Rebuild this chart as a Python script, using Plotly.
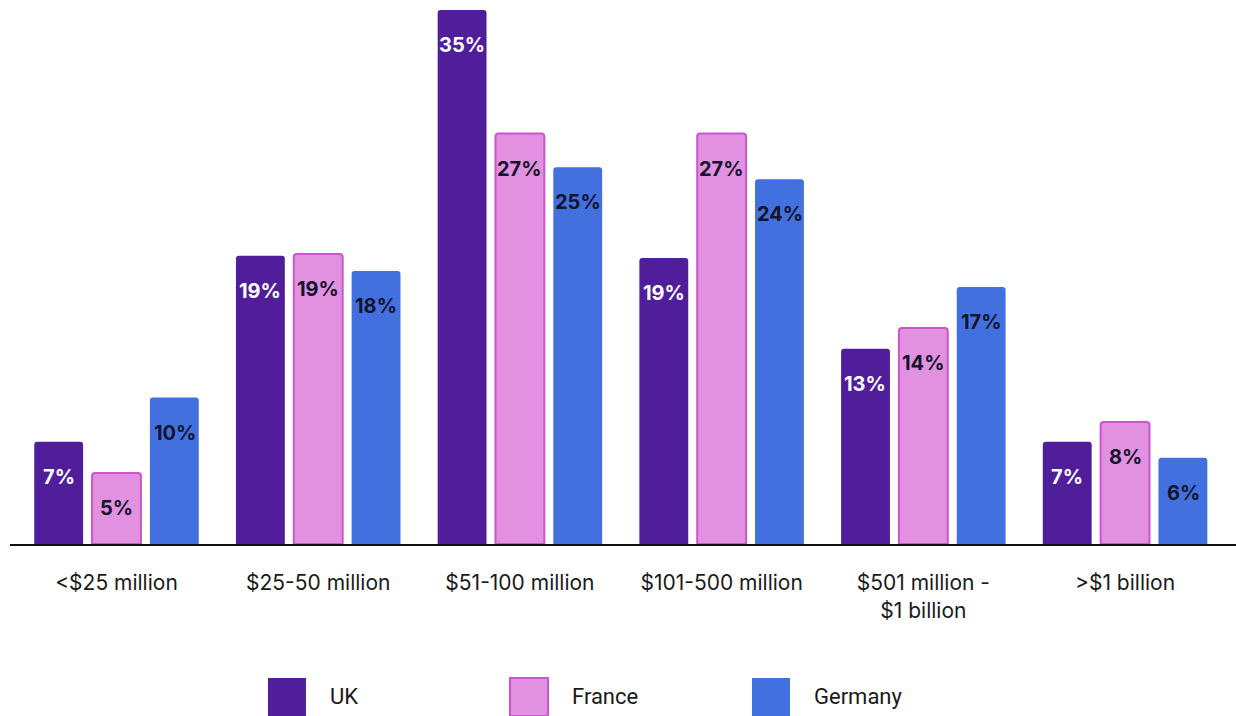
import plotly.graph_objects as go

categories = ["<$25 million", "$25-50 million", "$51-100 million", "$101-500 million",
              "$501 million -<br>$1 billion", ">$1 billion"]
series_names = ["UK", "France", "Germany"]
uk = [6.7, 18.9, 35.0, 18.75, 12.8, 6.7]
france = [4.65, 19.0, 26.9, 26.9, 14.15, 8.0]
germany = [9.6, 17.9, 24.7, 23.9, 16.85, 5.65]
uk_labels = ["7%", "19%", "35%", "19%", "13%", "7%"]
france_labels = ["5%", "19%", "27%", "27%", "14%", "8%"]
germany_labels = ["10%", "18%", "25%", "24%", "17%", "6%"]

values = [uk, france, germany]
labels = [uk_labels, france_labels, germany_labels]
fills = ["#501E9B", "#E191E0", "#4370DF"]
borders = ["#501E9B", "#CC55CC", "#4370DF"]
border_w = [0, 2, 0]
text_colors = ["#FFFFFF", "#14142B", "#14142B"]

fig = go.Figure()
for i, name in enumerate(series_names):
    fig.add_trace(go.Bar(
        name=name, x=categories, y=values[i],
        marker=dict(color=fills[i], line=dict(color=borders[i], width=border_w[i])),
        hoverinfo="skip", showlegend=False,
    ))

annotations = []
offsets = [-58, 0, 58]
for i in range(3):
    for j, c in enumerate(categories):
        annotations.append(dict(
            x=c, y=values[i][j], xref="x", yref="y", text="<b>%s</b>" % labels[i][j],
            showarrow=False, xshift=offsets[i], yshift=-35, yanchor="middle",
            font=dict(family="Inter", size=20, color=text_colors[i]),
        ))

# custom legend
leg_x = [0.2104, 0.4078, 0.6052]
sw = 0.031
shapes = []
for i, name in enumerate(series_names):
    shapes.append(dict(type="rect", xref="paper", yref="paper",
                       x0=leg_x[i], x1=leg_x[i] + sw, y0=-0.322, y1=-0.251,
                       fillcolor=fills[i], line=dict(color=borders[i], width=border_w[i])))
    annotations.append(dict(x=leg_x[i] + 0.049, y=-0.286, xref="paper", yref="paper",
                            text=name, showarrow=False, xanchor="left", yanchor="middle",
                            font=dict(family="Roboto", size=22, color="#1A1A1A")))

fig.update_layout(
    width=1236, height=716,
    margin=dict(l=10, r=0, t=10, b=172),
    plot_bgcolor="white", paper_bgcolor="white",
    barmode="group", bargap=0.14, bargroupgap=0.155, barcornerradius=3,
    annotations=annotations, shapes=shapes,
    xaxis=dict(range=[-0.528, 5.55], showline=True, linecolor="#111111", linewidth=2,
               ticks="outside", ticklen=19, tickcolor="rgba(0,0,0,0)",
               tickfont=dict(family="Inter", size=21, color="#1A1A1A"), showgrid=False),
    yaxis=dict(range=[0, 35], visible=False, showgrid=False, zeroline=False),
    showlegend=False,
)
fig.write_html("out.html", config={"displayModeBar": False},
               post_script="document.body.style.margin='0';document.body.style.overflow='hidden';")
